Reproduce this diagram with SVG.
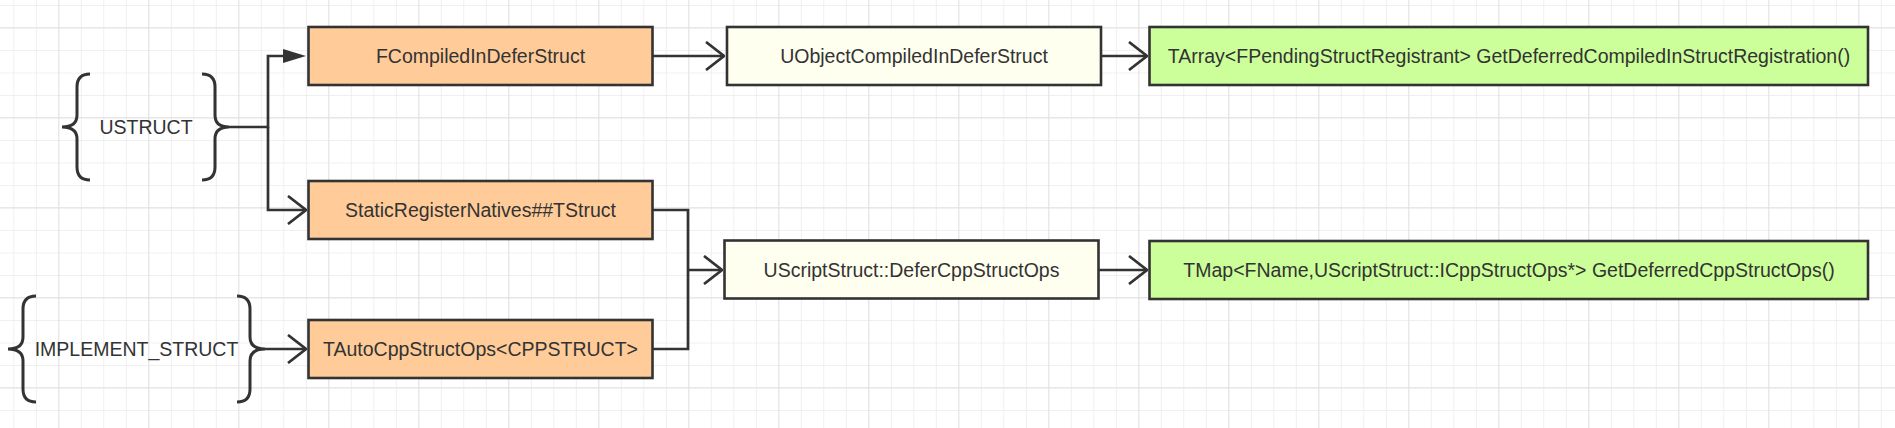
<svg xmlns="http://www.w3.org/2000/svg" width="1895" height="428" viewBox="0 0 1895 428">
  <defs>
    <pattern id="gridMinor" patternUnits="userSpaceOnUse" x="13.3" y="5" width="22.5" height="22.5">
      <path d="M0,0 V22.5 M0,0 H22.5" fill="none" stroke="#ececec" stroke-width="1.6"/>
    </pattern>
    <pattern id="gridMajor" patternUnits="userSpaceOnUse" x="58.3" y="27.3" width="90" height="90">
      <path d="M0,0 V90 M0,0 H90" fill="none" stroke="#e1e1e1" stroke-width="1.8"/>
    </pattern>
    <marker id="open" viewBox="0 0 20 30" refX="19" refY="15" markerWidth="20" markerHeight="30" markerUnits="userSpaceOnUse" orient="auto">
      <path d="M1,1 L19,15 L1,29" fill="none" stroke="#333" stroke-width="2.7" stroke-linejoin="miter"/>
    </marker>
    <marker id="filled" viewBox="0 0 24 16" refX="23" refY="8" markerWidth="24" markerHeight="16" markerUnits="userSpaceOnUse" orient="auto">
      <path d="M0,1 L24,8 L0,15 Z" fill="#333"/>
    </marker>
  </defs>
  <style>
    .box { stroke: #333333; stroke-width: 2.6; }
    .orange { fill: #FFCC99; }
    .cream { fill: #FFFFF0; }
    .green { fill: #CCFF99; }
    .lbl { font-family: "Liberation Sans", Arial, sans-serif; font-size: 19.5px; fill: #333333; text-anchor: middle; }
    .brace { fill: none; stroke: #333333; stroke-width: 3; stroke-linecap: butt; }
    .conn { fill: none; stroke: #333333; stroke-width: 2.7; }
  </style>

  <rect x="0" y="0" width="1895" height="428" fill="#ffffff"/>
  <rect x="0" y="0" width="1895" height="428" fill="url(#gridMinor)"/>
  <rect x="0" y="0" width="1895" height="428" fill="url(#gridMajor)"/>

  <g id="connectors">
    <path class="conn" d="M229,127 H268 V56 H285" />
    <path d="M283,49 L306,56 L283,63 Z" fill="#333"/>
    <path class="conn" d="M268,127 V210 H306" marker-end="url(#open)"/>
    <path class="conn" d="M265,349 H306" marker-end="url(#open)"/>
    <path class="conn" d="M653,56 H724" marker-end="url(#open)"/>
    <path class="conn" d="M1101,56 H1147" marker-end="url(#open)"/>
    <path class="conn" d="M653,210 H688 V349 H653"/>
    <path class="conn" d="M688,270 H722" marker-end="url(#open)"/>
    <path class="conn" d="M1099,270 H1147" marker-end="url(#open)"/>
  </g>

  <g id="ustruct">
    <path class="brace" d="M90,74 Q77,74 77,87 L77,115 Q77,127 62,127 Q77,127 77,139 L77,167 Q77,180 90,180"/>
    <path class="brace" d="M202,74 Q215,74 215,87 L215,115 Q215,127 229,127 Q215,127 215,139 L215,167 Q215,180 202,180"/>
    <text class="lbl" x="146" y="134">USTRUCT</text>
  </g>

  <g id="implement_struct">
    <path class="brace" d="M36,296 Q23,296 23,309 L23,337 Q23,349 8,349 Q23,349 23,361 L23,389 Q23,402 36,402"/>
    <path class="brace" d="M237,296 Q250,296 250,309 L250,337 Q250,349 265,349 Q250,349 250,361 L250,389 Q250,402 237,402"/>
    <text class="lbl" x="136.5" y="356">IMPLEMENT_STRUCT</text>
  </g>

  <g id="fcompiled">
    <rect class="box orange" x="308.5" y="27" width="344" height="58"/>
    <text class="lbl" x="480.5" y="63">FCompiledInDeferStruct</text>
  </g>

  <g id="staticregister">
    <rect class="box orange" x="308.5" y="181" width="344" height="58"/>
    <text class="lbl" x="480.5" y="217">StaticRegisterNatives##TStruct</text>
  </g>

  <g id="tautocpp">
    <rect class="box orange" x="308.5" y="320" width="344" height="58"/>
    <text class="lbl" x="480.5" y="356">TAutoCppStructOps&lt;CPPSTRUCT&gt;</text>
  </g>

  <g id="uobjectcompiled">
    <rect class="box cream" x="727" y="27" width="374" height="58"/>
    <text class="lbl" x="914" y="63">UObjectCompiledInDeferStruct</text>
  </g>

  <g id="uscriptstruct">
    <rect class="box cream" x="724.5" y="240.5" width="374" height="58"/>
    <text class="lbl" x="911.5" y="277">UScriptStruct::DeferCppStructOps</text>
  </g>

  <g id="tarray">
    <rect class="box green" x="1149.5" y="27" width="718.5" height="58"/>
    <text class="lbl" x="1509" y="63">TArray&lt;FPendingStructRegistrant&gt; GetDeferredCompiledInStructRegistration()</text>
  </g>

  <g id="tmap">
    <rect class="box green" x="1149.5" y="241" width="718.5" height="58"/>
    <text class="lbl" x="1509" y="277">TMap&lt;FName,UScriptStruct::ICppStructOps*&gt; GetDeferredCppStructOps()</text>
  </g>
</svg>
